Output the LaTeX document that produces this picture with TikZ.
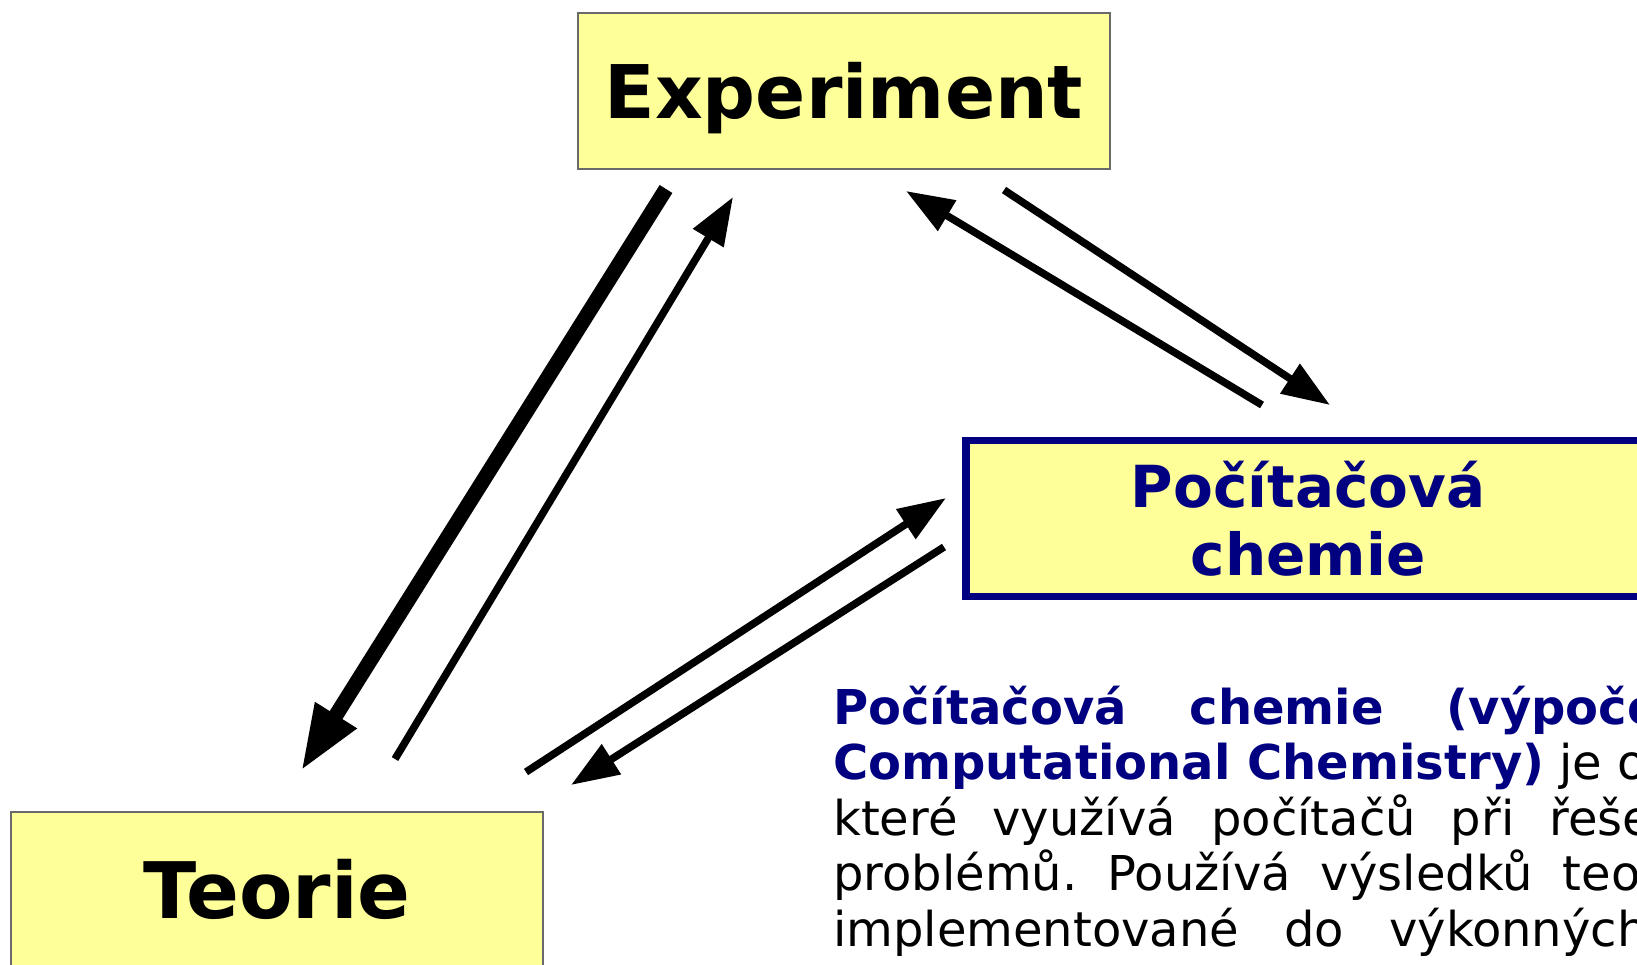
\documentclass[tikz,border=0pt]{standalone}
\usepackage{fontspec}
\setmainfont{DejaVu Sans}
\usetikzlibrary{arrows.meta}
\definecolor{boxyellow}{HTML}{FFFF99}
\definecolor{pcblue}{HTML}{000080}
\definecolor{boxgray}{HTML}{6A6A6A}

\begin{document}
\begin{tikzpicture}[x=1pt,y=-1pt,
	box/.style={draw=boxgray, line width=2pt, fill=boxyellow, inner sep=0pt, minimum width=532pt, minimum height=156pt, text height=54pt, text depth=0pt, font=\fontsize{74}{80}\selectfont\bfseries},
	pcbox/.style={draw=pcblue, line width=7.5pt, fill=boxyellow, inner sep=0pt, minimum width=684pt, minimum height=156pt, align=center, text=pcblue, font=\fontsize{58}{68}\selectfont\bfseries},
	txt/.style={anchor=base west, inner sep=0pt, font=\fontsize{48}{56}\selectfont},
	arr/.style={line width=7.5pt, -{Triangle[length=48pt,width=34pt]}},
	fatarr/.style={line width=15pt, -{Triangle[length=66pt,width=45pt]}}]
			\useasboundingbox (0,0) rectangle (1637,964);
			\clip (0,0) rectangle (1637,964);
			% boxes
			\node[box] (exp) at (844,91) {Experiment};
			\node[box, text height=57pt, font=\fontsize{78}{84}\selectfont\bfseries] (teo) at (277,890) {Teorie};
			\node[pcbox] (pc) at (1308,518.5) {Počítačová\\chemie};

			% end points of the arrows
			\coordinate (expA) at (666,189);
			\coordinate (teoA) at (301,771);
			\coordinate (teoB) at (395,759);
			\coordinate (expB) at (733,197);
			\coordinate (pcA) at (1262,405);
			\coordinate (expC) at (906,191);
			\coordinate (expD) at (1004,190);
			\coordinate (pcB) at (1330,405);
			\coordinate (teoC) at (526,772);
			\coordinate (pcC) at (946,498);
			\coordinate (pcD) at (944,547);
			\coordinate (teoD) at (571,785);

			\draw[fatarr] (expA)--(teoA);
			\begin{scope}
			\draw[arr] (teoB)--(expB);
			\draw[arr] (pcA)--(expC);
			\draw[arr] (expD)--(pcB);
			\draw[arr] (teoC)--(pcC);
			\draw[arr] (pcD)--(teoD);
			\end{scope}

			% the paragraph, cut at the right edge
			\node[txt, text=pcblue] (l1) at (833,724) {\bfseries Počítačová\hspace{63pt}chemie\hspace{63pt}(výpoče};
			\node[txt] (l2) at (833,779.5) {{\color{pcblue}\bfseries Computational Chemistry)} je o};
			\node[txt] (l3) at (833,835) {které\hspace{35pt}využívá\hspace{35pt}počítačů\hspace{35pt}při\hspace{35pt}řeše};
			\node[txt] (l4) at (833,890.5) {problémů.\hspace{30pt}Používá\hspace{30pt}výsledků\hspace{30pt}teo};
			\node[txt] (l5) at (833,946) {implementované\hspace{45pt}do\hspace{45pt}výkonných};
\end{tikzpicture}
\end{document}
